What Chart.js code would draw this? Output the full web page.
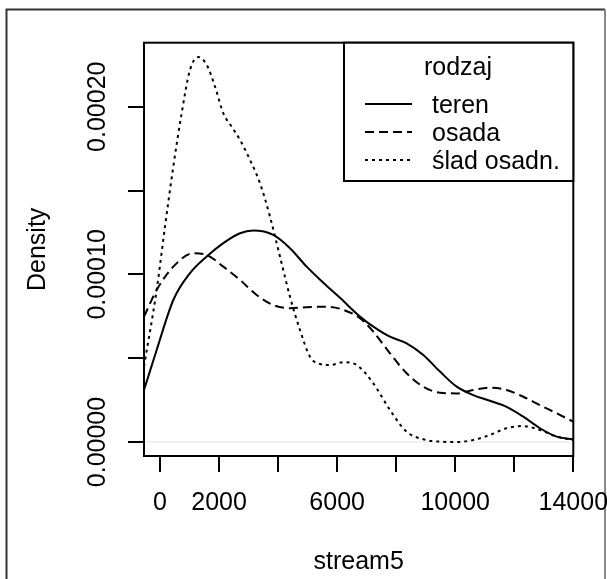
<!DOCTYPE html>
<html>
<head>
<meta charset="utf-8">
<script src="https://cdn.jsdelivr.net/npm/chart.js@4"></script>
<style>
html,body{margin:0;padding:0;background:#fff;}
#wrap{width:607px;height:579px;position:relative;}
</style>
</head>
<body>
<div id="wrap"><canvas id="c" width="607" height="579"></canvas></div>
<script>
// ---- data ----
const seriesNames = ["teren", "osada", "ślad osadn."];
const legendTitle = "rodzaj";
const xTitle = "stream5";
const yTitle = "Density";

const terenX = [-542, -113, 451, 1016, 1581, 2145, 2710, 3161, 3838, 4403, 4968, 5532, 6097, 6774, 7226, 7790, 8355, 8919, 9484, 10049, 10613, 11177, 11742, 12306, 12871, 13436, 14000];
const terenY = [3.1e-5, 5.49e-5, 8.47e-5, 1.007e-4, 1.106e-4, 1.186e-4, 1.245e-4, 1.261e-4, 1.235e-4, 1.156e-4, 1.046e-4, 9.5e-5, 8.6e-5, 7.48e-5, 6.88e-5, 6.28e-5, 5.89e-5, 5.19e-5, 4.2e-5, 3.3e-5, 2.8e-5, 2.46e-5, 2.1e-5, 1.51e-5, 8.2e-6, 3.2e-6, 1.6e-6];

const osadaX = [-542, -113, 451, 1129, 1581, 2145, 2710, 3274, 3838, 4403, 4968, 5645, 6097, 6774, 7226, 7790, 8355, 8919, 9484, 10049, 10613, 11177, 11742, 12306, 12871, 13436, 14000];
const osadaY = [7.48e-5, 9.07e-5, 1.046e-4, 1.126e-4, 1.116e-4, 1.046e-4, 9.67e-5, 8.77e-5, 8.17e-5, 7.98e-5, 8.04e-5, 8.07e-5, 7.95e-5, 7.38e-5, 6.58e-5, 5.29e-5, 4.1e-5, 3.3e-5, 2.94e-5, 2.9e-5, 3.1e-5, 3.24e-5, 3.1e-5, 2.7e-5, 2.2e-5, 1.71e-5, 1.21e-5];

const sladX = [-542, -113, 169, 451, 734, 1016, 1298, 1581, 1863, 2145, 2427, 2710, 3048, 3387, 3726, 4064, 4403, 4742, 5081, 5419, 5758, 6210, 6662, 7226, 7790, 8355, 8919, 9484, 10049, 10613, 11177, 11742, 12306, 12871, 13436, 14000];
const sladY = [4.5e-5, 9.07e-5, 1.285e-4, 1.643e-4, 1.961e-4, 2.22e-4, 2.296e-4, 2.25e-4, 2.12e-4, 1.961e-4, 1.881e-4, 1.802e-4, 1.683e-4, 1.544e-4, 1.344e-4, 1.106e-4, 8.67e-5, 6.68e-5, 5.09e-5, 4.65e-5, 4.59e-5, 4.76e-5, 4.59e-5, 3.5e-5, 1.91e-5, 6.1e-6, 1.6e-6, 2e-7, 0, 1.2e-6, 4.2e-6, 8.2e-6, 9.5e-6, 7.2e-6, 3.2e-6, 1.2e-6];

const xTicks = [0, 2000, 4000, 6000, 8000, 10000, 12000, 14000];
const xTickLabels = {0: "0", 2000: "2000", 6000: "6000", 10000: "10000", 14000: "14000"};
const yTicks = [0, 0.00005, 0.0001, 0.00015, 0.0002];
const yTickLabelVals = [0, 0.0001, 0.0002];
const yTickLabels = ["0.00000", "0.00010", "0.00020"];

const X_MIN = -542, X_MAX = 14000, Y_MIN = -8.35e-6, Y_MAX = 2.382e-4;

// ---- build ----
const pts = (xs, ys) => xs.map((x, i) => ({x: x, y: ys[i]}));
const FONT = '"Liberation Sans", Arial, Helvetica, sans-serif';
const FS = 25;

const mk = (label, xs, ys, dash) => ({
  label: label,
  data: pts(xs, ys),
  borderColor: '#000',
  borderWidth: 2,
  borderDash: dash,
  pointRadius: 0,
  fill: false,
  cubicInterpolationMode: 'monotone',
  tension: 0.4
});

const overlay = {
  id: 'rstyle',
  beforeDraw(chart) {
    const ctx = chart.ctx;
    ctx.save();
    ctx.fillStyle = '#fff';
    ctx.fillRect(0, 0, chart.width, chart.height);
    ctx.lineWidth = 2;
    ctx.strokeStyle = '#333';
    ctx.beginPath();
    ctx.moveTo(6.5, 579); ctx.lineTo(6.5, 9.5); ctx.lineTo(605, 9.5);
    ctx.stroke();
    ctx.strokeStyle = '#888';
    ctx.beginPath();
    ctx.moveTo(605, 9.5); ctx.lineTo(605, 579);
    ctx.stroke();
    ctx.restore();
  },
  beforeDatasetsDraw(chart) {
    const ctx = chart.ctx, a = chart.chartArea, ys = chart.scales.y;
    ctx.save();
    ctx.strokeStyle = '#ececec';
    ctx.lineWidth = 1.5;
    const y0 = ys.getPixelForValue(0);
    ctx.beginPath(); ctx.moveTo(a.left, y0); ctx.lineTo(a.right, y0); ctx.stroke();
    ctx.restore();
  },
  afterDraw(chart) {
    const ctx = chart.ctx, a = chart.chartArea, ys = chart.scales.y;
    ctx.save();
    ctx.strokeStyle = '#000';
    ctx.lineWidth = 2;
    ctx.strokeRect(a.left, a.top, a.right - a.left, a.bottom - a.top);
    ctx.fillStyle = '#000';
    ctx.font = FS + 'px ' + FONT;
    ctx.textAlign = 'center';
    ctx.textBaseline = 'middle';
    yTickLabelVals.forEach((v, i) => {
      const py = ys.getPixelForValue(v);
      ctx.save();
      ctx.translate(98, py);
      ctx.rotate(-Math.PI / 2);
      ctx.fillText(yTickLabels[i], 0, 0);
      ctx.restore();
    });
    ctx.save();
    ctx.translate(38, (a.top + a.bottom) / 2);
    ctx.rotate(-Math.PI / 2);
    ctx.fillText(yTitle, 0, 0);
    ctx.restore();
    ctx.fillText(xTitle, (a.left + a.right) / 2, 562);
    // legend
    const L = 344, T = a.top, R = a.right, B = 181;
    ctx.fillStyle = '#fff';
    ctx.fillRect(L, T, R - L, B - T);
    ctx.strokeRect(L, T, R - L, B - T);
    ctx.fillStyle = '#000';
    ctx.fillText(legendTitle, 458, 68);
    const rows = [104, 132, 160];
    ctx.textAlign = 'left';
    chart.data.datasets.forEach((d, i) => {
      ctx.save();
      ctx.strokeStyle = '#000';
      ctx.lineWidth = 2;
      ctx.setLineDash(d.borderDash || []);
      ctx.beginPath(); ctx.moveTo(365, rows[i]); ctx.lineTo(412, rows[i]); ctx.stroke();
      ctx.restore();
      ctx.fillText(d.label, 432, rows[i] + 2);
    });
    ctx.restore();
  }
};

new Chart(document.getElementById('c'), {
  type: 'line',
  data: {
    datasets: [
      mk(seriesNames[0], terenX, terenY, []),
      mk(seriesNames[1], osadaX, osadaY, [9, 5]),
      mk(seriesNames[2], sladX, sladY, [3, 4])
    ]
  },
  options: {
    responsive: false,
    animation: false,
    devicePixelRatio: 1,
    layout: {padding: {left: 0, top: 42.7, right: 33.7, bottom: 0}},
    plugins: {legend: {display: false}, tooltip: {enabled: false}},
    scales: {
      x: {
        type: 'linear',
        min: X_MIN, max: X_MAX,
        afterBuildTicks: s => { s.ticks = xTicks.map(v => ({value: v})); },
        afterFit: s => { s.height = 123; s.paddingLeft = 0; s.paddingRight = 0; },
        border: {display: false},
        grid: {drawOnChartArea: false, drawTicks: true, tickLength: 16, color: '#000', lineWidth: 2},
        ticks: {
          autoSkip: false, maxRotation: 0, minRotation: 0, padding: 16,
          color: '#000', font: {size: FS, family: FONT},
          callback: v => (xTickLabels[v] !== undefined ? xTickLabels[v] : '')
        }
      },
      y: {
        type: 'linear',
        min: Y_MIN, max: Y_MAX,
        afterBuildTicks: s => { s.ticks = yTicks.map(v => ({value: v})); },
        afterFit: s => { s.width = 144; s.paddingTop = 0; s.paddingBottom = 0; },
        border: {display: false},
        grid: {drawOnChartArea: false, drawTicks: true, tickLength: 16, color: '#000', lineWidth: 2},
        ticks: {display: false}
      }
    }
  },
  plugins: [overlay]
});
</script>
</body>
</html>
